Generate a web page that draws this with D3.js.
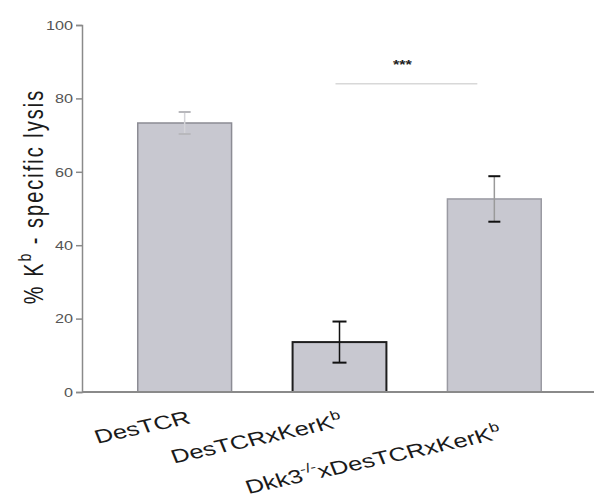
<!DOCTYPE html>
<html>
<head>
<meta charset="utf-8">
<script src="https://cdn.jsdelivr.net/npm/d3@7"></script>
<style>
  html, body { margin: 0; padding: 0; background: #fff; }
  svg { display: block; }
</style>
</head>
<body>
<svg id="chart" width="594" height="499"></svg>
<script>
// Groups, means and SEM of K^b-specific lysis
const groups = ["DesTCR", "DesTCRxKerKb", "Dkk3KOxDesTCRxKerKb"];
const means = [73.3, 13.6, 52.6];
const errors = [3.0, 5.6, 6.2];
const yTicks = [0, 20, 40, 60, 80, 100];
const significance = { from: 1, to: 2, level: 84, label: "***" };

const svg = d3.select("#chart");
const W = 594, H = 499;
const font = "'Liberation Sans', Arial, sans-serif";
const stretch = 1.35; // text is drawn wide

const y = d3.scaleLinear().domain([0, 100]).range([392, 25]);
const x = d3.scaleBand().domain(groups).range([82, 597])
  .paddingInner(0.394).paddingOuter(0.36);

// y axis
const yAxis = svg.append("g").attr("transform", "translate(82,0)")
  .call(d3.axisLeft(y).tickValues(yTicks).tickSize(6).tickPadding(3));
yAxis.select(".domain").attr("stroke", "#8a8a8a").attr("stroke-width", 1.5);
yAxis.selectAll(".tick line").attr("stroke", "#8a8a8a").attr("stroke-width", 1.5);
yAxis.selectAll(".tick text")
  .attr("fill", "#555").attr("font-size", 12).attr("font-family", font)
  .attr("x", -9 / stretch).attr("dy", "0.35em")
  .attr("transform", `scale(${stretch},1)`);

// bars
const barStyles = [
  { stroke: "#8c8c94", width: 1.5 },
  { stroke: "#1e1e1e", width: 2 },
  { stroke: "#9a9aa2", width: 1.5 }
];
svg.append("g").selectAll("rect").data(groups).join("rect")
  .attr("x", d => x(d))
  .attr("y", (d, i) => y(means[i]))
  .attr("width", x.bandwidth())
  .attr("height", (d, i) => y(0) - y(means[i]))
  .attr("fill", "#c8c8d0")
  .attr("stroke", (d, i) => barStyles[i].stroke)
  .attr("stroke-width", (d, i) => barStyles[i].width);

// x axis baseline
svg.append("line").attr("x1", 82).attr("x2", W)
  .attr("y1", y(0)).attr("y2", y(0))
  .attr("stroke", "#8a8a8a").attr("stroke-width", 2);

// error bars
const errStyles = [
  { stem: "#d4d4d8", cap: "#b8b8bc", capW: 12 },
  { stem: "#111", cap: "#111", capW: 14 },
  { stem: "#9a9a9a", cap: "#111", capW: 12 }
];
const eb = svg.append("g").selectAll("g").data(groups).join("g");
eb.append("line")
  .attr("x1", d => x(d) + x.bandwidth() / 2)
  .attr("x2", d => x(d) + x.bandwidth() / 2)
  .attr("y1", (d, i) => y(means[i] - errors[i]))
  .attr("y2", (d, i) => y(means[i] + errors[i]))
  .attr("stroke", (d, i) => errStyles[i].stem).attr("stroke-width", 1.5);
[-1, 1].forEach(s => {
  eb.append("line")
    .attr("x1", (d, i) => x(d) + x.bandwidth() / 2 - errStyles[i].capW / 2)
    .attr("x2", (d, i) => x(d) + x.bandwidth() / 2 + errStyles[i].capW / 2)
    .attr("y1", (d, i) => y(means[i] + s * errors[i]))
    .attr("y2", (d, i) => y(means[i] + s * errors[i]))
    .attr("stroke", (d, i) => errStyles[i].cap).attr("stroke-width", 2);
});

// significance bracket
const sx1 = x(groups[significance.from]) + x.bandwidth() / 2 - 4;
const sx2 = x(groups[significance.to]) - 17 + x.bandwidth() / 2;
svg.append("line").attr("x1", sx1).attr("x2", sx2)
  .attr("y1", y(significance.level)).attr("y2", y(significance.level))
  .attr("stroke", "#d8d8d8").attr("stroke-width", 1.5);
svg.append("text")
  .attr("transform", `translate(${(sx1 + sx2) / 2 - 4},${y(significance.level) - 15}) scale(${stretch},1)`)
  .attr("text-anchor", "middle").attr("font-family", font)
  .attr("font-size", 12).attr("font-weight", "bold").attr("fill", "#222")
  .text(significance.label);

// category labels (slanted, anchored at their right end)
const labelParts = [
  [["DesTCR", 0]],
  [["DesTCRxKerK", 0], ["b", 1]],
  [["Dkk3", 0], ["-/-", 1], ["xDesTCRxKerK", 0], ["b", 1]]
];
const labelOffset = [[7, 31], [5, 34], [9, 46]];
const lab = svg.append("g").selectAll("text").data(groups).join("text")
  .attr("text-anchor", "end")
  .attr("font-family", font).attr("font-size", 19).attr("fill", "#1a1a1a")
  .attr("transform", (d, i) =>
    `translate(${x(d) + x.bandwidth() / 2 + labelOffset[i][0]},${y(0) + labelOffset[i][1]}) scale(${stretch},1) rotate(-16.5)`);
lab.each(function(d, i) {
  const t = d3.select(this);
  let shift = 0;
  labelParts[i].forEach(([s, sup]) => {
    const target = sup ? -8 : 0;
    t.append("tspan").text(s)
      .attr("font-size", sup ? 13 : 19)
      .attr("dy", target - shift);
    shift = target;
  });
});

// y axis title
const yt = svg.append("text")
  .attr("transform", `translate(43,${(y(0) + y(100)) / 2 - 12}) scale(${stretch},1) rotate(-90)`)
  .attr("text-anchor", "middle").attr("font-family", font)
  .attr("font-size", 20).attr("letter-spacing", 2).attr("fill", "#1a1a1a");
yt.append("tspan").text("% K");
yt.append("tspan").text("b").attr("font-size", 14).attr("dy", -9);
yt.append("tspan").text(" - specific lysis").attr("dy", 9);
</script>
</body>
</html>
